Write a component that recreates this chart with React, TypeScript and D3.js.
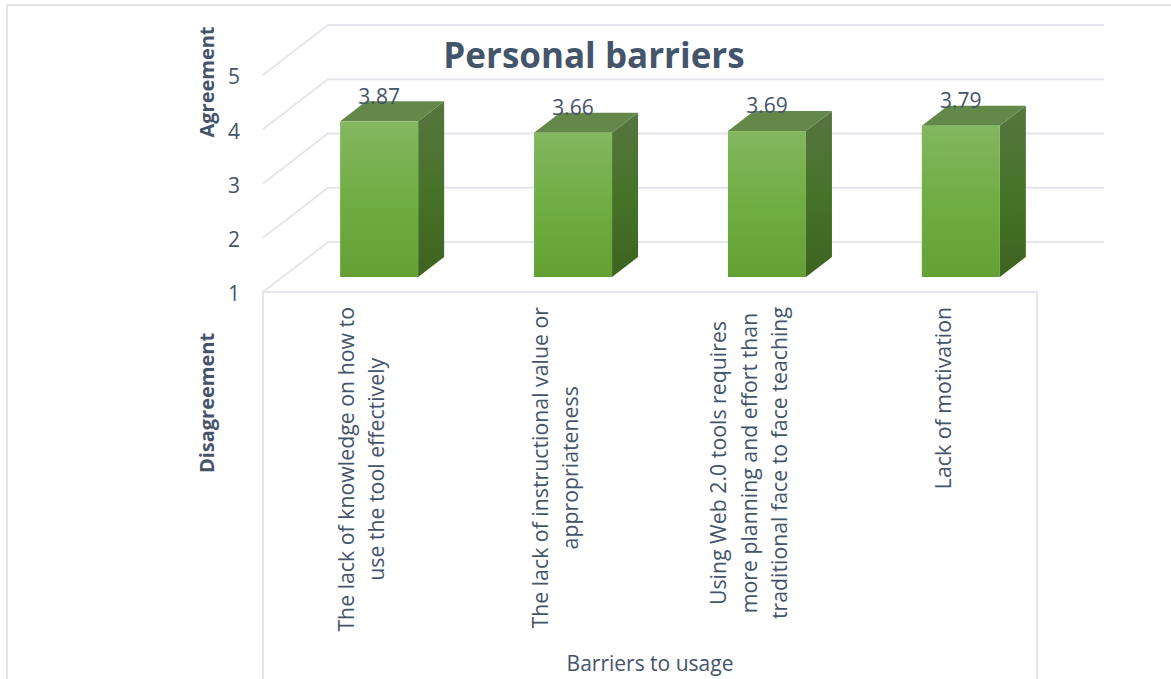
import React from "react";
import * as d3 from "d3";

const categories = [
  ["The lack of knowledge on how to", "use the tool effectively"],
  ["The lack of instructional value or", "appropriateness"],
  ["Using Web 2.0 tools requires", "more planning and effort than", "traditional face to face teaching"],
  ["Lack of motivation"],
];
const values = [3.87, 3.66, 3.69, 3.79];
const valueLabels = ["3.87", "3.66", "3.69", "3.79"];
const yTicks = [1, 2, 3, 4, 5];

const WIDTH = 1171;
const HEIGHT = 679;
const INK = "#44546a";
const GRID = "#e3e6ec";
const FONT = "'Open Sans', sans-serif";
const LABEL_SIZE = 21;
const CATEGORY_SIZE = 21.3;

// Oblique offset from the front of the chart floor to its back wall.
const WALL_DX = 65;
const WALL_DY = -50;
// Bars sit part way into the floor and have their own depth.
const BAR_DX = 26;
const BAR_DY = -20;
const BAR_FLOOR_Y = 277;
const BAR_WIDTH = 78;

const y = d3.scaleLinear().domain([1, 5]).range([292, 75]);
const x = d3.scaleBand<number>().domain(d3.range(values.length)).range([282, 1058]).paddingInner(0.598).paddingOuter(0.3);

const barHeight = (v: number) => y(1) - y(v);

function textWidth(text: string, font: string): number {
  const ctx = document.createElement("canvas").getContext("2d");
  if (!ctx) return text.length * 9;
  ctx.font = font;
  return ctx.measureText(text).width;
}

export default function App() {
  const labelFont = `${CATEGORY_SIZE}px 'Open Sans'`;
  const bw = BAR_WIDTH;
  const barX = (i: number) => (x(i) ?? 0) + (x.bandwidth() - bw) / 2;
  return (
    <svg
      width={WIDTH}
      height={HEIGHT}
      viewBox={`0 0 ${WIDTH} ${HEIGHT}`}
      style={{ position: "absolute", left: 0, top: 0, background: "#fff" }}
      fontFamily={FONT}
    >
      <defs>
        <linearGradient id="front" x1="0" y1="0" x2="0" y2="1">
          <stop offset="0" stopColor="#83b761" />
          <stop offset="0.5" stopColor="#70ad42" />
          <stop offset="1" stopColor="#64a034" />
        </linearGradient>
        <linearGradient id="side" x1="0" y1="0" x2="0" y2="1">
          <stop offset="0" stopColor="#56753f" />
          <stop offset="0.5" stopColor="#477329" />
          <stop offset="1" stopColor="#3d631f" />
        </linearGradient>
      </defs>

      {/* outer frame */}
      <path d={`M7 ${HEIGHT}V5H${WIDTH}`} fill="none" stroke={GRID} strokeWidth={2} />

      {/* side wall and back wall gridlines */}
      {yTicks.map((t) => (
        <path
          key={t}
          d={`M263 ${y(t)}l${WALL_DX} ${WALL_DY}H1104`}
          fill="none"
          stroke={GRID}
          strokeWidth={2}
        />
      ))}

      {/* floor front edge with the category box below */}
      <path d={`M263 ${HEIGHT}V${y(1)}H1037V${HEIGHT}`} fill="none" stroke={GRID} strokeWidth={2} />

      {yTicks.map((t) => (
        <text key={t} x={234} y={y(t) + 2} dy="0.35em" textAnchor="middle" fontSize={LABEL_SIZE} fill={INK}>
          {t}
        </text>
      ))}

      {/* bars */}
      {values.map((v, i) => {
        const x0 = barX(i);
        const top = BAR_FLOOR_Y - barHeight(v);
        return (
          <g key={i}>
            <path
              d={`M${x0 + bw} ${top}l${BAR_DX} ${BAR_DY}V${BAR_FLOOR_Y + BAR_DY}l${-BAR_DX} ${-BAR_DY}Z`}
              fill="url(#side)"
            />
            <path
              d={`M${x0} ${top}l${BAR_DX} ${BAR_DY}h${bw}l${-BAR_DX} ${-BAR_DY}Z`}
              fill="#64884a"
            />
            <rect x={x0} y={top} width={bw} height={barHeight(v)} fill="url(#front)" />
            <text
              x={x0 + bw / 2}
              y={top - 25}
              dy="0.35em"
              textAnchor="middle"
              fontSize={LABEL_SIZE}
              fill={INK}
            >
              {valueLabels[i]}
            </text>
          </g>
        );
      })}

      {/* rotated category labels: the block is centred on the longest line */}
      {categories.map((lines, i) => {
        const longest = d3.max(lines, (l) => textWidth(l, labelFont)) ?? 0;
        const centerY = 307 + longest / 2;
        const centerX = barX(i) + bw / 2 - 17.5;
        return lines.map((line, j) => (
          <text
            key={j}
            transform={`translate(${centerX + (j - (lines.length - 1) / 2) * 30.5},${centerY}) rotate(-90)`}
            dy="0.35em"
            textAnchor="middle"
            fontSize={CATEGORY_SIZE}
            fill={INK}
          >
            {line}
          </text>
        ));
      })}

      <text x={594} y={56} dy="0.35em" textAnchor="middle" fontSize={35} fontWeight={700} fill={INK}>
        Personal barriers
      </text>
      <text x={650} y={664} dy="0.35em" textAnchor="middle" fontSize={LABEL_SIZE} fill={INK}>
        Barriers to usage
      </text>
      <text transform="translate(207,82) rotate(-90)" dy="0.35em" textAnchor="middle" fontSize={20} fontWeight={700} fill={INK}>
        Agreement
      </text>
      <text transform="translate(207,403) rotate(-90)" dy="0.35em" textAnchor="middle" fontSize={20} fontWeight={700} fill={INK}>
        Disagreement
      </text>
    </svg>
  );
}
